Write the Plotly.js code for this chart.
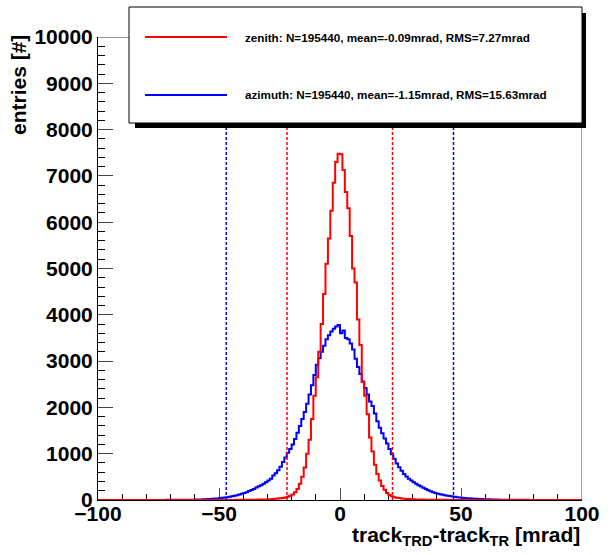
<!DOCTYPE html>
<html>
<head>
<meta charset="utf-8">
<script src="https://cdn.plot.ly/plotly-3.0.1.min.js"></script>
<style>
  html, body { margin: 0; padding: 0; background: #ffffff; }
  #chart { width: 610px; height: 555px; }
</style>
</head>
<body>
<div id="chart"></div>
<script>
// ---- data (bin width 1 mrad, bins from -100 to 100) ----
const binLow = -100;
const binWidth = 1;

// zenith counts, bins [-100,-99) ... [99,100)
const zenithCounts = [
  0,0,0,0,0,0,0,0,0,0,
  0,0,0,0,0,0,0,0,1,0,
  0,0,0,0,0,1,0,0,0,0,
  0,1,0,0,0,1,0,0,1,0,
  0,1,0,1,1,0,1,1,1,1,
  1,1,2,1,2,2,2,3,3,3,
  4,5,5,6,7,8,9,10,11,13,
  15,18,22,26,31,37,45,55,68,90,
  120,165,240,350,500,700,1000,1300,1750,2250,
  2650,3200,3800,4450,5100,5650,6250,6850,7300,7480,
  7470,7130,6650,6300,5700,5000,4700,3900,3350,2550,
  2250,1850,1350,1050,760,560,420,300,220,150,
  110,80,62,50,42,35,29,24,20,17,
  15,13,11,10,9,8,7,6,5,5,
  4,4,3,3,3,2,2,2,2,1,
  2,1,1,1,1,1,0,1,1,0,
  1,0,0,1,0,0,0,1,0,0,
  0,0,0,0,1,0,0,0,0,0,
  0,0,0,0,0,0,0,0,0,0,
  0,0,0,0,0,0,0,0,0,0
];

// azimuth counts, bins [-100,-99) ... [99,100)
const azimuthCounts = [
  0,0,1,0,0,0,1,0,0,0,
  0,0,1,0,1,1,0,1,1,1,
  1,1,2,1,2,2,2,2,3,3,
  3,3,4,4,5,5,6,6,7,8,
  9,10,12,14,16,19,22,26,30,35,
  41,47,54,62,71,81,92,104,118,133,
  150,170,192,215,240,270,295,320,350,385,
  420,460,530,580,640,720,820,920,1020,1100,
  1200,1320,1450,1600,1750,1900,2080,2280,2480,2700,
  2920,3060,3200,3330,3470,3560,3640,3700,3750,3780,
  3600,3660,3500,3470,3380,3250,3050,2870,2720,2560,
  2420,2280,2130,2030,1870,1700,1560,1440,1330,1220,
  1100,990,890,790,710,630,560,510,460,420,
  385,350,320,290,262,236,212,190,170,152,
  137,124,112,101,92,84,76,69,62,56,
  50,45,40,36,32,29,26,23,20,18,
  16,14,12,11,10,9,8,7,6,6,
  5,5,4,4,4,3,3,3,2,2,
  2,2,2,1,2,1,1,1,1,0,
  1,1,0,1,0,0,1,0,0,0
];

// +-3 RMS markers (dashed lines)
const zenithCuts = [-21.9, 21.7];
const azimuthCuts = [-47.0, 46.9];

const legendLabels = [
  "zenith: N=195440, mean=-0.09mrad, RMS=7.27mrad",
  "azimuth: N=195440, mean=-1.15mrad, RMS=15.63mrad"
];

const xRange = [-100, 100];
const yRange = [0, 10000];

// ---- build step outlines ----
function stepXY(counts) {
  const xs = [], ys = [];
  for (let i = 0; i < counts.length; i++) {
    xs.push(binLow + i * binWidth);
    ys.push(counts[i]);
  }
  xs.push(binLow + counts.length * binWidth);
  ys.push(counts[counts.length - 1]);
  return {xs, ys};
}
const az = stepXY(azimuthCounts);
const ze = stepXY(zenithCounts);

const traces = [
  {x: az.xs, y: az.ys, type: 'scatter', mode: 'lines', line: {shape: 'hv', color: '#0000ff', width: 2}, hoverinfo: 'skip', showlegend: false},
  {x: ze.xs, y: ze.ys, type: 'scatter', mode: 'lines', line: {shape: 'hv', color: '#ff0000', width: 2}, hoverinfo: 'skip', showlegend: false}
];

const W = 610, H = 555;
const M = {l: 98, r: 28, t: 37, b: 55};
const pw = W - M.l - M.r, ph = H - M.t - M.b;
const px = v => (v - M.l) / pw;          // pixel x -> paper
const py = v => (H - M.b - v) / ph;      // pixel y -> paper

const shapes = [];
zenithCuts.forEach(c => shapes.push({type: 'line', xref: 'x', yref: 'y', x0: c, x1: c, y0: yRange[0], y1: yRange[1], line: {color: '#ff0000', width: 1.5, dash: '3px,2px'}, layer: 'above'}));
azimuthCuts.forEach(c => shapes.push({type: 'line', xref: 'x', yref: 'y', x0: c, x1: c, y0: yRange[0], y1: yRange[1], line: {color: '#0000ff', width: 1.5, dash: '3px,2px'}, layer: 'above'}));
// frame top line and right edge
shapes.push({type: 'line', xref: 'x', yref: 'y', x0: xRange[0], x1: xRange[1], y0: yRange[1], y1: yRange[1], line: {color: '#333', width: 1}, layer: 'above'});
shapes.push({type: 'line', xref: 'x', yref: 'y', x0: xRange[1], x1: xRange[1], y0: yRange[0], y1: yRange[1], line: {color: '#ff0000', width: 1}, layer: 'above'});
// legend shadow and box
shapes.push({type: 'rect', xref: 'paper', yref: 'paper', x0: px(135), x1: px(586), y0: py(128), y1: py(13), fillcolor: '#000000', line: {width: 0}, layer: 'above'});
shapes.push({type: 'rect', xref: 'paper', yref: 'paper', x0: px(129), x1: px(582), y0: py(123), y1: py(7), fillcolor: '#ffffff', line: {color: '#000000', width: 1}, layer: 'above'});
// legend samples
shapes.push({type: 'line', xref: 'paper', yref: 'paper', x0: px(145), x1: px(227), y0: py(37), y1: py(37), line: {color: '#ff0000', width: 2}, layer: 'above'});
shapes.push({type: 'line', xref: 'paper', yref: 'paper', x0: px(145), x1: px(227), y0: py(95), y1: py(95), line: {color: '#0000ff', width: 2}, layer: 'above'});

const boldFont = (size) => ({family: 'Liberation Sans, Arial, Helvetica, sans-serif', size: size, color: '#000000', weight: 'bold'});

const annotations = [
  {xref: 'paper', yref: 'paper', x: px(243), y: py(37), xanchor: 'left', yanchor: 'middle', text: legendLabels[0], showarrow: false, font: boldFont(11.7)},
  {xref: 'paper', yref: 'paper', x: px(243), y: py(95), xanchor: 'left', yanchor: 'middle', text: legendLabels[1], showarrow: false, font: boldFont(11.7)},
  {xref: 'paper', yref: 'paper', x: 1.0, y: py(536), xanchor: 'right', yanchor: 'middle', text: 'track<sub>TRD</sub>-track<sub>TR</sub> [mrad]', showarrow: false, font: boldFont(21)},
  {xref: 'paper', yref: 'paper', x: px(18), y: py(85), xanchor: 'center', yanchor: 'middle', textangle: -90, text: 'entries [#]', showarrow: false, font: boldFont(21)}
];

const layout = {
  width: W, height: H,
  margin: M,
  paper_bgcolor: '#ffffff', plot_bgcolor: '#ffffff',
  showlegend: false,
  xaxis: {
    range: xRange, showgrid: false, zeroline: false,
    showline: true, linecolor: '#000000', linewidth: 1,
    ticks: 'inside', ticklen: 12, tickwidth: 1, tickcolor: '#555',
    tick0: 0, dtick: 50, ticklabelstandoff: -5,
    minor: {ticks: 'inside', dtick: 10, ticklen: 6, tickcolor: '#000', tickwidth: 1, showgrid: false},
    tickfont: boldFont(21), layer: 'below traces', fixedrange: true
  },
  yaxis: {
    range: yRange, showgrid: false, zeroline: false,
    showline: true, linecolor: '#000000', linewidth: 1,
    ticks: 'inside', ticklen: 15, tickwidth: 1, tickcolor: '#444',
    tick0: 0, dtick: 1000, tickformat: 'd',
    minor: {ticks: 'inside', dtick: 200, ticklen: 7, tickcolor: '#000', tickwidth: 1, showgrid: false},
    tickfont: boldFont(21), layer: 'below traces', fixedrange: true
  },
  shapes: shapes,
  annotations: annotations
};

Plotly.newPlot('chart', traces, layout, {displayModeBar: false, staticPlot: true});
</script>
</body>
</html>
